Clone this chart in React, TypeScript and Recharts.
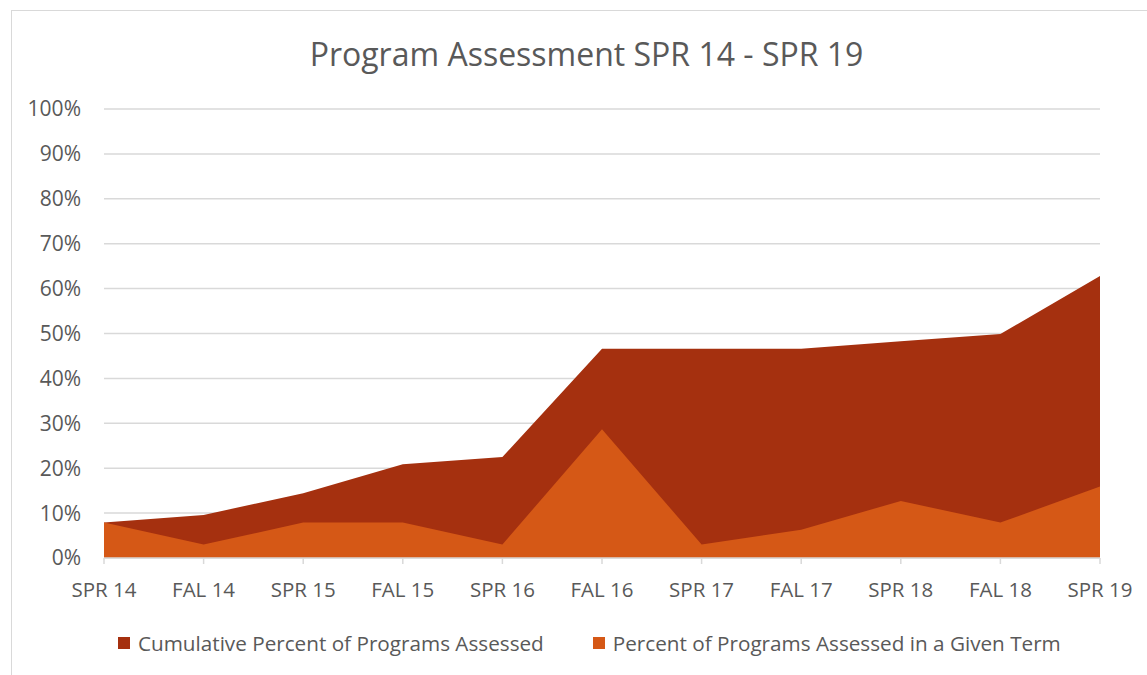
import { Area, AreaChart, CartesianGrid, XAxis, YAxis } from "recharts"

const terms = ["SPR 14", "FAL 14", "SPR 15", "FAL 15", "SPR 16", "FAL 16", "SPR 17", "FAL 17", "SPR 18", "FAL 18", "SPR 19"]
const cumulativePct = [7.9, 9.6, 14.4, 20.9, 22.5, 46.6, 46.6, 46.6, 48.3, 49.9, 62.8]
const termPct = [7.9, 3.0, 7.9, 7.9, 3.0, 28.7, 3.0, 6.3, 12.7, 7.9, 15.9]
const yTicks = [0, 10, 20, 30, 40, 50, 60, 70, 80, 90, 100]

const series = [
  { key: "cumulative", name: "Cumulative Percent of Programs Assessed", color: "#A5300F" },
  { key: "termValue", name: "Percent of Programs Assessed in a Given Term", color: "#D55816" },
]

const data = terms.map((term, i) => ({
  term,
  cumulative: cumulativePct[i],
  termValue: termPct[i],
}))

const font = "'Open Sans', sans-serif"
const textColor = "#595959"
const gridColor = "#D9D9D9"

export default function App() {
  return (
    <div style={{ position: "absolute", left: 0, top: 0, width: 1147, height: 675, background: "#fff", overflow: "hidden", fontFamily: font }}>
      <div style={{ position: "absolute", left: 11, top: 10, width: 1160, height: 700, border: `1px solid ${gridColor}` }} />
      <div style={{ position: "absolute", left: 0, top: 32, width: 1173, textAlign: "center", fontSize: 32, color: textColor }}>
        Program Assessment SPR 14 - SPR 19
      </div>
      <AreaChart
        width={1147}
        height={675}
        data={data}
        margin={{ top: 109, right: 47, bottom: 87, left: 0 }}
        style={{ position: "absolute", left: 0, top: 0 }}
      >
        <CartesianGrid vertical={false} stroke={gridColor} strokeWidth={1.5} />
        <XAxis
          dataKey="term"
          axisLine={{ stroke: gridColor, strokeWidth: 1.5 }}
          tickLine={{ stroke: gridColor, strokeWidth: 1.5 }}
          tickSize={6}
          tickMargin={18}
          tick={{ fill: textColor, fontSize: 20.5, fontFamily: font }}
          interval={0}
        />
        <YAxis
          domain={[0, 100]}
          ticks={yTicks}
          tickFormatter={(v) => `${v}%`}
          axisLine={false}
          tickLine={false}
          width={104}
          tickMargin={17}
          tick={{ fill: textColor, fontSize: 21, fontFamily: font }}
        />
        {series.map((s) => (
          <Area
            key={s.key}
            type="linear"
            dataKey={s.key}
            name={s.name}
            fill={s.color}
            fillOpacity={1}
            stroke="none"
            isAnimationActive={false}
          />
        ))}
      </AreaChart>
      <div style={{ position: "absolute", left: 118, top: 629, display: "flex", gap: 49 }}>
        {series.map((s) => (
          <div key={s.key} style={{ display: "flex", alignItems: "center", fontSize: 20.7, color: textColor, whiteSpace: "nowrap" }}>
            <span style={{ display: "inline-block", width: 12, height: 12, background: s.color, marginRight: 8 }} />
            {s.name}
          </div>
        ))}
      </div>
    </div>
  )
}
